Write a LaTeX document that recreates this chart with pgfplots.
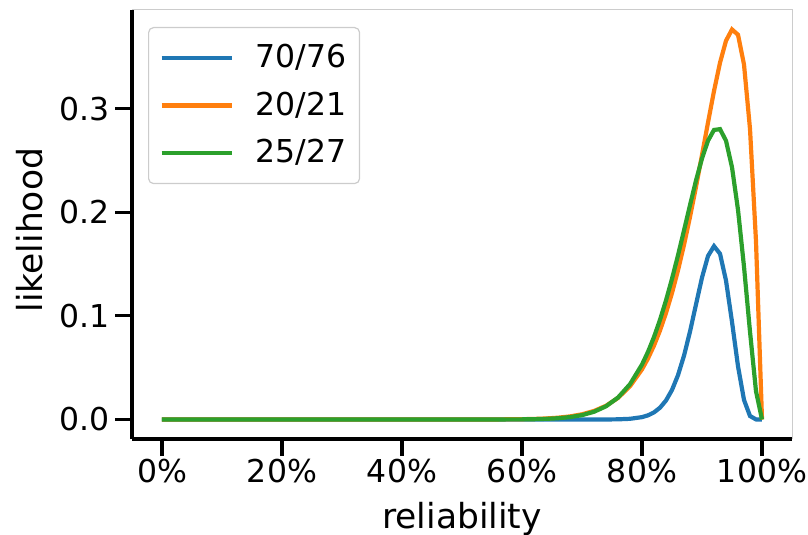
\documentclass[border=0pt]{standalone}
\usepackage{pgfplots}
\pgfplotsset{compat=1.18}
\usepackage{fontspec}
\setmainfont{DejaVu Sans}
\definecolor{tabblue}{HTML}{1F77B4}
\definecolor{taborange}{HTML}{FF7F0E}
\definecolor{tabgreen}{HTML}{2CA02C}
\definecolor{spinegray}{HTML}{CCCCCC}
\begin{document}
\begin{tikzpicture}
\useasboundingbox (-132pt,-96pt) rectangle (676pt,439pt);
\begin{axis}[
  at={(0pt,0pt)}, anchor=south west,
  scale only axis, width=660pt, height=429pt,
  xmin=-0.05, xmax=1.05, ymin=-0.0188, ymax=0.3952,
  axis x line*=bottom, axis y line*=left,
  axis line style={line width=3.2pt, black, -},
  tick align=outside, major tick length=17pt,
  every tick/.style={line width=3.2pt, black},
  xtick={0,0.2,0.4,0.6,0.8,1.0},
  xticklabels={0\%,20\%,40\%,60\%,80\%,100\%},
  ytick={0,0.1,0.2,0.3},
  yticklabel style={xshift=-2pt, /pgf/number format/.cd, fixed, fixed zerofill, precision=1, assume math mode=true},
  /pgf/number format/assume math mode=true,
  tick label style={font=\fontsize{31.5}{38}\selectfont},
  label style={font=\fontsize{34.5}{41}\selectfont},
  xlabel={reliability}, ylabel={likelihood},
  xlabel style={at={(axis description cs:0.5,-0.2075)}, anchor=base},
  ylabel style={at={(axis description cs:-0.1545,0.487)}, anchor=center},
  clip=false,
  legend cell align=left,
  legend style={at={(rel axis cs:0.02424,0.9604)}, anchor=north west,
    font=\fontsize{31.5}{38}\selectfont, draw=spinegray, line width=1.2pt,
    rounded corners=5pt, fill=white, inner xsep=11pt, inner ysep=6.75pt,
    nodes={inner ysep=0pt, text height=33.25pt, text depth=14.25pt},
    /tikz/every odd column/.append style={column sep=20pt}},
  legend image code/.code={\draw[line width=4.2pt] (0pt,0pt) -- (70pt,0pt);},
]
\draw[spinegray, line width=1pt] (rel axis cs:0,1) -- (rel axis cs:1,1) -- (rel axis cs:1,0);
\addplot[tabblue, line width=4.2pt] coordinates {
(0,0) (0.5,0) (0.7,0.000002) (0.74,0.000047) (0.76,0.00019) (0.78,0.000693) (0.80,0.002301)
(0.81,0.00404) (0.82,0.00689) (0.83,0.01142) (0.84,0.018367) (0.85,0.028551) (0.86,0.0428)
(0.87,0.06162) (0.88,0.084855) (0.89,0.11104) (0.90,0.13699) (0.91,0.15779) (0.92,0.16729)
(0.93,0.16) (0.94,0.13409) (0.95,0.09425) (0.96,0.05141) (0.97,0.0189) (0.98,0.003401)
(0.99,0.000108) (1.0,0)};
\addlegendentry{70/76}
\addplot[taborange, line width=4.2pt] coordinates {
(0,0) (0.5,0.000001) (0.55,0.000061) (0.60,0.000307) (0.62,0.00056) (0.64,0.001) (0.66,0.00176)
(0.68,0.003) (0.70,0.00503) (0.72,0.00824) (0.74,0.01324) (0.76,0.02083) (0.78,0.0321)
(0.80,0.04842) (0.81,0.05898) (0.82,0.0714) (0.83,0.08595) (0.84,0.1028) (0.85,0.1221)
(0.86,0.144) (0.87,0.1685) (0.88,0.1955) (0.89,0.2246) (0.90,0.2553) (0.91,0.2866)
(0.92,0.317) (0.93,0.3443) (0.94,0.3655) (0.95,0.3764) (0.96,0.3713) (0.97,0.3426)
(0.98,0.2804) (0.99,0.1718) (1.0,0)};
\addlegendentry{20/21}
\addplot[tabgreen, line width=4.2pt] coordinates {
(0,0) (0.5,0) (0.60,0.00016) (0.62,0.000327) (0.64,0.00065) (0.66,0.00125) (0.68,0.00234)
(0.70,0.00424) (0.72,0.00747) (0.74,0.01277) (0.76,0.02119) (0.78,0.03408) (0.80,0.05304)
(0.81,0.0653) (0.82,0.07963) (0.83,0.0962) (0.84,0.11495) (0.85,0.1358) (0.86,0.15851)
(0.87,0.18247) (0.88,0.20688) (0.89,0.23063) (0.90,0.25198) (0.91,0.26907) (0.92,0.27942)
(0.93,0.28021) (0.94,0.26904) (0.95,0.24341) (0.96,0.2024) (0.97,0.14751) (0.98,0.08473)
(0.99,0.0273) (1.0,0)};
\addlegendentry{25/27}
\end{axis}
\end{tikzpicture}
\end{document}
